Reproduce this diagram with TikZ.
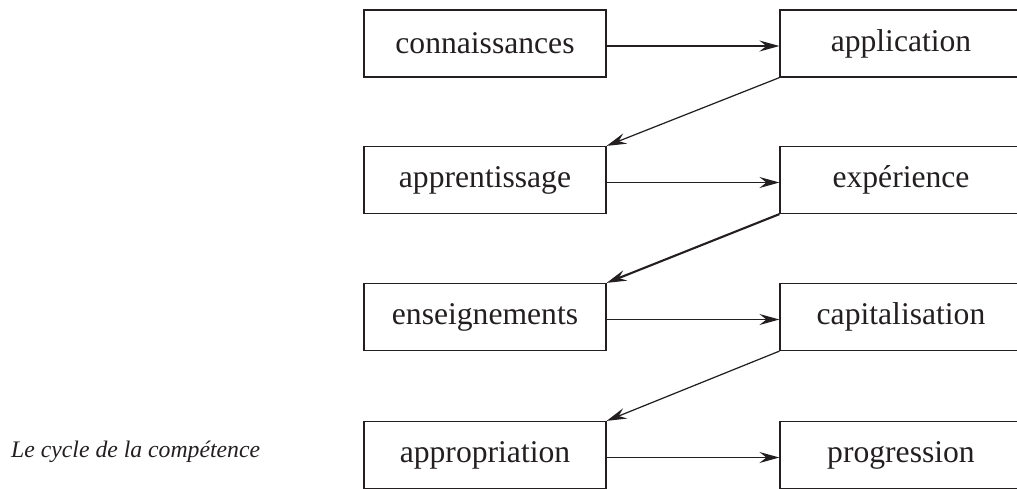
\documentclass[tikz,border=0pt]{standalone}
\usepackage{fontspec}
\setmainfont{Liberation Serif}
\usepackage{tikz}
\usetikzlibrary{calc, positioning, arrows.meta}
\usepackage{xcolor}
\definecolor{ink}{RGB}{35, 31, 32}

\tikzset{
  stage/.style={draw=ink, line width=0.7pt, minimum width=4.84cm, minimum height=1.34cm,
    inner sep=0pt, font=\fontsize{18}{20}\selectfont, text=ink},
  link/.style={->, draw=ink, line width=0.7pt},
}

\begin{document}
\begin{tikzpicture}[x=0.02cm, y=-0.02cm,
    >={Stealth[length=4mm, width=2.2mm, inset=1.4mm]}]
  % frame of the page (boxes on the right and at the bottom are cut off)
  \useasboundingbox (0,0) rectangle (1017,488);
  \clip (0,0) rectangle (1017,488);

  \def\xl{485}
  \def\xr{901}
  \def\dy{-0.05cm}

  % left column
  \node[stage] (conn) at (\xl, 43.5) {connaissances};
  \node[stage] (appr) at (\xl, 180) {apprentissage};
  \node[stage] (ens)  at (\xl, 317) {enseignements};
  \node[stage] (appro) at (\xl, 455) {appropriation};

  % right column
  \node[stage] (appl) at (\xr, 43.5) {application};
  \node[stage] (exp)  at (\xr, 180) {expérience};
  \node[stage] (cap)  at (\xr, 317) {capitalisation};
  \node[stage] (prog) at (\xr, 455) {progression};

  % caption
  \node[anchor=west, text=ink, font=\fontsize{13.5}{16}\selectfont\itshape]
    (caption) at (5, 452) {Le cycle de la compétence};

  % across
  \draw[link] ([yshift=\dy]conn.east) -- ([yshift=\dy]appl.west);
  \draw[link] ([yshift=\dy]appr.east) -- ([yshift=\dy]exp.west);
  \draw[link] ([yshift=\dy]ens.east) -- ([yshift=\dy]cap.west);
  \draw[link] ([yshift=\dy]appro.east) -- ([yshift=\dy]prog.west);

  % back down
  \draw[link] (appl.south west) -- (appr.north east);
  \draw[link, line width=1.2pt] (exp.south west) -- (ens.north east);
  \draw[link] (cap.south west) -- (appro.north east);
\end{tikzpicture}
\end{document}
